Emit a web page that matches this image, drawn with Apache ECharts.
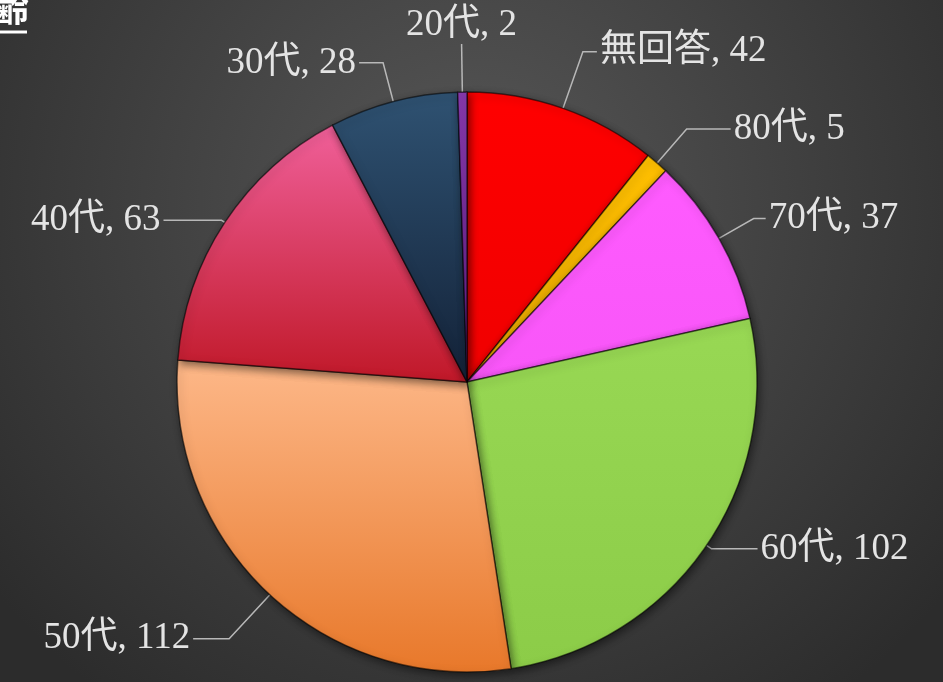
<!DOCTYPE html>
<html>
<head>
<meta charset="utf-8">
<script src="https://cdn.jsdelivr.net/npm/echarts@6/dist/echarts.min.js"></script>
<style>
  html, body { margin: 0; padding: 0; }
  #chart { width: 943px; height: 682px; }
</style>
</head>
<body>
<div id="chart"></div>
<script>
// 年齢別の回答数（12時の位置から時計回り）
const categories = ['無回答', '80代', '70代', '60代', '50代', '40代', '30代', '20代'];
const counts = [42, 5, 37, 102, 112, 63, 28, 2];
// 各スライスの色（上端→下端のグラデーション）
const topColors = ['#ff0000', '#ffc000', '#ff5bff', '#98d854', '#fdb889', '#f0609a', '#2f5272', '#8a3ab0'];
const bottomColors = ['#f00000', '#e8a800', '#f856f8', '#8ccc48', '#e8782a', '#c01828', '#132238', '#601c80'];
// 引き出し線の長さ（1本目, 2本目）
const lineLen1 = [60, 45, 40, 6, 60, 4, 40, 46];
const lineLen2 = [14, 44, 12, 46, 36, 58, 24, 0];

const myChart = echarts.init(document.getElementById('chart'));

const option = {
  backgroundColor: {
    type: 'radial',
    x: 0.5, y: 0.3, r: 0.9,
    colorStops: [
      { offset: 0, color: '#575757' },
      { offset: 1, color: '#2c2c2c' }
    ]
  },
  title: {
    text: '年齢',
    left: -48,
    top: -15,
    textStyle: {
      color: '#ffffff',
      fontSize: 36,
      fontWeight: 'bold',
      fontFamily: 'Noto Sans CJK JP'
    }
  },
  graphic: [
    {
      type: 'line',
      shape: { x1: 0, y1: 32, x2: 27, y2: 32 },
      style: { stroke: '#ffffff', lineWidth: 3 }
    }
  ],
  series: [
    {
      type: 'pie',
      center: [467, 382],
      radius: 290,
      startAngle: 90,
      clockwise: true,
      avoidLabelOverlap: false,
      data: categories.map((name, i) => ({
        name: name,
        value: counts[i],
        labelLine: { length: lineLen1[i], length2: lineLen2[i] },
        itemStyle: {
          color: {
            type: 'linear',
            x: 0, y: 0, x2: 0, y2: 1,
            colorStops: [
              { offset: 0, color: topColors[i] },
              { offset: 1, color: bottomColors[i] }
            ]
          }
        }
      })),
      itemStyle: {
        borderColor: 'rgba(0,0,0,0.55)',
        borderWidth: 1.5,
        shadowColor: 'rgba(0,0,0,0.5)',
        shadowBlur: 8,
        shadowOffsetX: 2,
        shadowOffsetY: 3
      },
      label: {
        show: true,
        formatter: '{b}, {c}',
        color: '#e4e4e4',
        fontSize: 37,
        fontFamily: '"Liberation Serif", "Noto Sans CJK JP", serif',
        distanceToLabelLine: 3
      },
      labelLine: {
        show: true,
        lineStyle: { color: '#b8b8b8', width: 1.5 }
      },
      // 20代のラベルだけ線の真上に中央揃えで置く
      labelLayout: function (params) {
        if (params.dataIndex !== 7 || !params.labelLinePoints) return {};
        const p = params.labelLinePoints;
        const end = p[p.length - 1];
        return {
          x: end[0],
          y: end[1] - 2,
          align: 'center',
          verticalAlign: 'bottom'
        };
      },
      emphasis: { disabled: true }
    }
  ]
};

myChart.setOption(option);
</script>
</body>
</html>
